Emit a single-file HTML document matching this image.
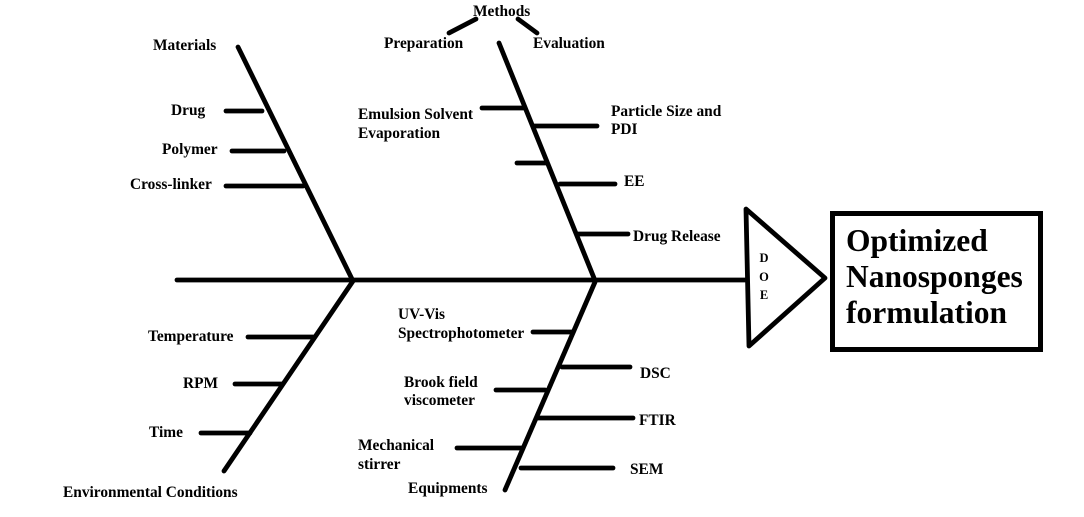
<!DOCTYPE html>
<html>
<head>
<meta charset="utf-8">
<style>
html,body{margin:0;padding:0;background:#fff;}
svg{display:block;}
text{font-family:"Liberation Serif","Times New Roman",serif;font-weight:bold;fill:#000;}
.t{font-size:15.4px;}
.d{font-size:12.5px;}
.b{font-size:31.5px;}
</style>
</head>
<body>
<svg width="1084" height="517" viewBox="0 0 1084 517" xmlns="http://www.w3.org/2000/svg">
<g stroke="#000" stroke-width="4.8" stroke-linecap="round" fill="none">
  <!-- spine -->
  <line x1="177" y1="280" x2="746" y2="280"/>
  <!-- bones -->
  <line x1="238" y1="47" x2="352" y2="279"/>
  <line x1="353" y1="281" x2="224" y2="471"/>
  <line x1="499" y1="43" x2="594" y2="278"/>
  <line x1="595" y1="282" x2="505" y2="490"/>
  <!-- methods connectors -->
  <line x1="449" y1="33" x2="476" y2="19"/>
  <line x1="518" y1="19" x2="537" y2="33"/>
  <!-- materials branches -->
  <line x1="226" y1="111" x2="262" y2="111"/>
  <line x1="232" y1="151" x2="284" y2="151"/>
  <line x1="226" y1="186" x2="303" y2="186"/>
  <!-- methods branches -->
  <line x1="482" y1="108" x2="523" y2="108"/>
  <line x1="533" y1="126" x2="597" y2="126"/>
  <line x1="517" y1="163" x2="546" y2="163"/>
  <line x1="560" y1="184" x2="615" y2="184"/>
  <line x1="578" y1="234" x2="628" y2="234"/>
  <!-- env branches -->
  <line x1="248" y1="337" x2="313" y2="337"/>
  <line x1="235" y1="384" x2="282" y2="384"/>
  <line x1="201" y1="433" x2="250" y2="433"/>
  <!-- equipment branches -->
  <line x1="533" y1="332" x2="572" y2="332"/>
  <line x1="562" y1="367" x2="630" y2="367"/>
  <line x1="496" y1="390" x2="545" y2="390"/>
  <line x1="538" y1="418" x2="633" y2="418"/>
  <line x1="457" y1="448" x2="523" y2="448"/>
  <line x1="521" y1="468" x2="613" y2="468"/>
  <!-- DOE triangle -->
  <polygon points="746,209 825,278 749,346" fill="#fff" stroke-linejoin="round"/>
  <!-- box -->
  <rect x="832.5" y="213.5" width="208" height="136" stroke-width="5" stroke-linecap="butt"/>
</g>

<text class="t" x="473" y="16">Methods</text>
<text class="t" x="384" y="48">Preparation</text>
<text class="t" x="533" y="48">Evaluation</text>
<text class="t" x="153" y="50">Materials</text>
<text class="t" x="171" y="115">Drug</text>
<text class="t" x="162" y="154">Polymer</text>
<text class="t" x="130" y="189">Cross-linker</text>
<text class="t" x="358" y="119">Emulsion Solvent</text>
<text class="t" x="358" y="138">Evaporation</text>
<text class="t" x="611" y="116">Particle Size and</text>
<text class="t" x="611" y="134">PDI</text>
<text class="t" x="624" y="186">EE</text>
<text class="t" x="633" y="241">Drug Release</text>
<text class="t" x="148" y="341">Temperature</text>
<text class="t" x="183" y="388">RPM</text>
<text class="t" x="149" y="437">Time</text>
<text class="t" x="63" y="497">Environmental Conditions</text>
<text class="t" x="398" y="319">UV-Vis</text>
<text class="t" x="398" y="338">Spectrophotometer</text>
<text class="t" x="640" y="378">DSC</text>
<text class="t" x="404" y="387">Brook field</text>
<text class="t" x="404" y="405">viscometer</text>
<text class="t" x="639" y="425">FTIR</text>
<text class="t" x="358" y="450">Mechanical</text>
<text class="t" x="358" y="469">stirrer</text>
<text class="t" x="630" y="474">SEM</text>
<text class="t" x="408" y="493">Equipments</text>

<text class="d" x="764" y="262" text-anchor="middle">D</text>
<text class="d" x="764" y="281" text-anchor="middle">O</text>
<text class="d" x="764" y="299" text-anchor="middle">E</text>

<text class="b" x="846" y="251">Optimized</text>
<text class="b" x="846" y="287">Nanosponges</text>
<text class="b" x="846" y="323">formulation</text>
</svg>
</body>
</html>
